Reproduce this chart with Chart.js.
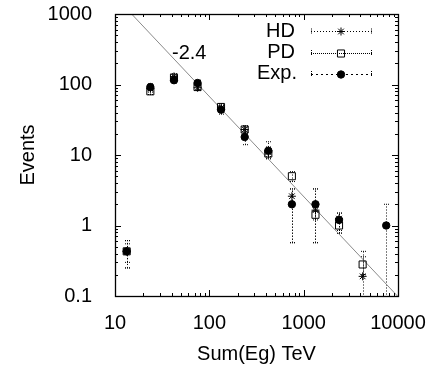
<!DOCTYPE html>
<html>
<head>
<meta charset="utf-8">
<script src="https://cdn.jsdelivr.net/npm/chart.js@4.4.1/dist/chart.umd.min.js"></script>
<style>
  html, body { margin: 0; padding: 0; background: #fff; }
  #wrap { width: 432px; height: 369px; }
</style>
</head>
<body>
<div id="wrap"><canvas id="c" width="432" height="369"></canvas></div>
<script>
// energy bins (TeV)
const energies = [13.3, 23.7, 42.2, 75, 133, 237, 422, 750, 1334, 2371, 4217, 7499];

// event counts per series
const hdEvents = [0.43, 88, 130, 90, 46, 23, 11, 2.6, 1.65, 1.25, 0.19, null];
const pdEvents = [0.43, 80, 125, 92, 48, 23, 10.5, 5, 1.42, 1.0, 0.28, null];
const expEvents = [0.43, 92, 115, 105, 44, 18, 11.5, 2, 2, 1.2, null, 1];

// error bar ranges
const hdLow = [0.25, 78, 118, 82, 41, 20, 9, 0.57, 0.57, 0.78, 0.01, null];
const hdHigh = [0.61, 98, 142, 98, 51, 26, 13, 3.3, 3.3, 1.5, 0.43, null];
const pdLow = [0.3, 72, 115, 84, 43, 21, 9.5, 4.2, 1.2, 0.85, 0.2, null];
const pdHigh = [0.55, 88, 135, 100, 53, 25, 11.5, 5.8, 1.65, 1.15, 0.36, null];
const expLow = [0.25, 82, 105, 95, 38, 14, 8.8, 0.57, 0.57, 0.78, null, 0.01];
const expHigh = [0.61, 102, 125, 115, 50, 22, 15.4, 3.3, 3.3, 1.5, null, 2];

// power law reference line (slope label -2.4)
const fitX = [15, 9860];
const fitY = [1000, 0.1];
const fitLabel = '-2.4';

// axis ticks
const xTicks = [10, 100, 1000, 10000];
const yTicks = [0.1, 1, 10, 100, 1000];

const FONT = '"Liberation Sans", Arial, sans-serif';

const toPoints = (ys) => energies.map((x, i) => ({ x, y: ys[i] })).filter(p => p.y != null);

const series = [
  { label: 'HD', data: hdEvents, low: hdLow, high: hdHigh, style: 'star', radius: 4, fill: 'transparent', dash: [1, 2] },
  { label: 'PD', data: pdEvents, low: pdLow, high: pdHigh, style: 'rect', radius: 5, fill: 'transparent', dash: [1, 1] },
  { label: 'Exp.', data: expEvents, low: expLow, high: expHigh, style: 'circle', radius: 3.7, fill: '#000', dash: [2, 3] }
];

// dotted error bars with small caps
const errorBars = {
  id: 'errorBars',
  beforeDatasetsDraw(chart) {
    const { ctx, chartArea: a, scales: { x, y } } = chart;
    ctx.save();
    ctx.beginPath();
    ctx.rect(a.left, a.top, a.right - a.left, a.bottom - a.top);
    ctx.clip();
    ctx.strokeStyle = '#000';
    ctx.lineWidth = 1;
    series.forEach(s => {
      energies.forEach((e, i) => {
        if (s.low[i] == null || s.high[i] == null) return;
        const px = Math.round(x.getPixelForValue(e)) + 0.5;
        const y1 = y.getPixelForValue(s.low[i]);
        const y2 = y.getPixelForValue(s.high[i]);
        ctx.setLineDash([1, 2]);
        ctx.beginPath();
        ctx.moveTo(px, y1);
        ctx.lineTo(px, y2);
        ctx.stroke();
        ctx.setLineDash([1, 1]);
        ctx.beginPath();
        ctx.moveTo(px - 2.5, y1); ctx.lineTo(px + 2.5, y1);
        ctx.moveTo(px - 2.5, y2); ctx.lineTo(px + 2.5, y2);
        ctx.stroke();
      });
    });
    ctx.restore();
  }
};

// frame, inward ticks, legend, slope label
const frame = {
  id: 'frame',
  afterDraw(chart) {
    const { ctx, chartArea: a, scales: { x, y } } = chart;
    ctx.save();
    ctx.strokeStyle = '#000';
    ctx.lineWidth = 1;
    ctx.setLineDash([]);

    const minors = (lo, hi) => {
      const out = [];
      for (let d = lo; d < hi * 0.99; d *= 10) {
        for (let k = 1; k < 10; k++) out.push({ v: d * k, major: k === 1 });
      }
      out.push({ v: hi, major: true });
      return out;
    };

    ctx.beginPath();
    minors(10, 10000).forEach(t => {
      const px = Math.round(x.getPixelForValue(t.v)) + 0.5;
      const len = t.major ? 6 : 3;
      ctx.moveTo(px, a.bottom); ctx.lineTo(px, a.bottom - len);
      ctx.moveTo(px, a.top); ctx.lineTo(px, a.top + len);
    });
    minors(0.1, 1000).forEach(t => {
      const py = Math.round(y.getPixelForValue(t.v)) + 0.5;
      const len = t.major ? 6 : 3;
      ctx.moveTo(a.left, py); ctx.lineTo(a.left + len, py);
      ctx.moveTo(a.right, py); ctx.lineTo(a.right - len, py);
    });
    ctx.stroke();

    ctx.lineWidth = 1.3;
    ctx.strokeRect(Math.round(a.left) + 0.5, Math.round(a.top) + 0.5,
      Math.round(a.right - a.left), Math.round(a.bottom - a.top));

    // slope label
    ctx.fillStyle = '#000';
    ctx.font = '20px ' + FONT;
    ctx.textAlign = 'left';
    ctx.textBaseline = 'middle';
    ctx.fillText(fitLabel, 172, 53);

    // legend
    const rows = [31, 52.5, 73.5];
    series.forEach((s, i) => {
      const ly = rows[i];
      ctx.fillStyle = '#000';
      ctx.strokeStyle = '#000';
      ctx.font = '20px ' + FONT;
      ctx.textAlign = 'right';
      ctx.textBaseline = 'middle';
      ctx.fillText(s.label, i === 2 ? 297 : 295, ly);
      ctx.lineWidth = 1;
      ctx.setLineDash(s.dash);
      ctx.beginPath();
      ctx.moveTo(311, Math.round(ly) + 0.5);
      ctx.lineTo(372, Math.round(ly) + 0.5);
      ctx.stroke();
      ctx.setLineDash([1, 1]);
      ctx.beginPath();
      ctx.moveTo(311.5, ly - 2.5); ctx.lineTo(311.5, ly + 2.5);
      ctx.moveTo(371.5, ly - 2.5); ctx.lineTo(371.5, ly + 2.5);
      ctx.stroke();
      ctx.setLineDash([]);
      ctx.fillStyle = s.fill;
      Chart.helpers.drawPoint(ctx, {
        pointStyle: s.style, radius: s.radius, rotation: 0, borderWidth: 1
      }, 341, Math.round(ly) + 0.5);
    });
    ctx.restore();
  }
};

const datasets = series.map(s => ({
  label: s.label,
  data: toPoints(s.data),
  showLine: false,
  pointStyle: s.style,
  pointRadius: s.radius,
  pointHoverRadius: s.radius,
  pointBorderColor: '#000',
  pointBackgroundColor: s.fill,
  pointBorderWidth: 1
}));

datasets.push({
  label: 'fit',
  type: 'line',
  data: fitX.map((x, i) => ({ x, y: fitY[i] })),
  borderColor: '#8a8a8a',
  borderWidth: 1,
  pointRadius: 0,
  showLine: true,
  order: 10
});

Chart.defaults.font.family = FONT;
Chart.defaults.color = '#000';

new Chart(document.getElementById('c'), {
  type: 'scatter',
  data: { datasets },
  options: {
    responsive: false,
    animation: false,
    devicePixelRatio: 1,
    layout: { padding: { left: 0, right: 34, top: 14, bottom: 0 } },
    plugins: { legend: { display: false }, tooltip: { enabled: false } },
    scales: {
      x: {
        type: 'logarithmic',
        min: 10,
        max: 10000,
        grid: { display: false },
        border: { display: false },
        afterBuildTicks: s => { s.ticks = xTicks.map(v => ({ value: v })); },
        afterFit: s => { s.height = 73; s.paddingLeft = 0; s.paddingRight = 0; },
        ticks: {
          font: { size: 20 },
          padding: 7,
          maxRotation: 0,
          autoSkip: false,
          callback: v => String(v)
        },
        title: { display: true, text: 'Sum(Eg) TeV', font: { size: 20 }, padding: { top: 0, bottom: 3 } }
      },
      y: {
        type: 'logarithmic',
        min: 0.1,
        max: 1000,
        grid: { display: false },
        border: { display: false },
        afterBuildTicks: s => { s.ticks = yTicks.map(v => ({ value: v })); },
        afterFit: s => { s.width = 115; s.paddingTop = 0; s.paddingBottom = 0; },
        ticks: {
          font: { size: 20 },
          padding: 15,
          autoSkip: false,
          callback: v => String(v)
        },
        title: { display: true, text: 'Events', font: { size: 20 }, padding: { top: 16, bottom: 0 } }
      }
    }
  },
  plugins: [errorBars, frame]
});
</script>
</body>
</html>
